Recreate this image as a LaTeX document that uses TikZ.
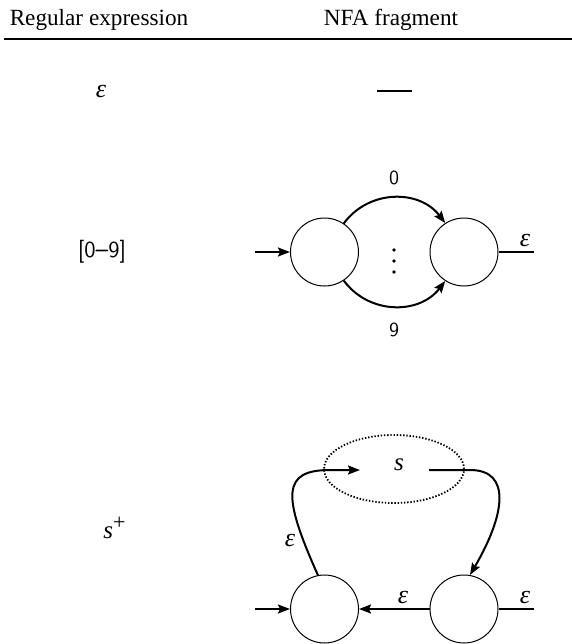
\documentclass[tikz,border=0pt]{standalone}
\usepackage{fontspec}
\setmainfont{Liberation Serif}
\usetikzlibrary{arrows.meta,shapes.geometric}
\begin{document}
\begin{tikzpicture}[x=0.5pt,y=-0.5pt,
  state/.style={circle,draw,line width=0.5pt,minimum size=34pt,inner sep=0pt},
  conn/.style={line width=1pt,-{Stealth[length=6pt,width=4.5pt,inset=1pt]}},
  plain/.style={line width=1pt},
  hdr/.style={font=\fontsize{11.6}{14}\selectfont,anchor=base,inner sep=0pt},
  eps/.style={font=\fontsize{13}{14}\selectfont\itshape,inner sep=1pt},
  dig/.style={font=\fontsize{10}{12}\selectfont\sffamily,inner sep=0pt},
]
\useasboundingbox (0,0) rectangle (572,644);

% header
\node[hdr] (h1) at (99,25) {Regular expression};
\node[hdr] (h2) at (391,25) {NFA fragment};
\coordinate (r1) at (4,39);
\coordinate (r2) at (572,39);
\draw[line width=1.2pt] (r1) -- (r2);

% row 1
\node[eps] (e1) at (101,91) {ε};
\coordinate (d1) at (377,91);
\coordinate (d2) at (412,91);
\draw[plain] (d1) -- (d2);

% row 2
\node[font=\fontsize{11.5}{13}\selectfont\sffamily,inner sep=0pt] (re2) at (102,252) {[0{\bfseries –}9]};
\node[state] (a) at (324.5,252) {};
\node[state] (b) at (464,252) {};
\coordinate (ain) at (255,252);
\coordinate (bout) at (534,252);
\draw[conn] (ain) -- (a);
\draw[plain] (b) -- (bout);
\node[eps] (l2) at (525,240) {ε};
\draw[conn] (a.56) .. controls +(25,-34) and +(-26,-34) .. (b.123);
\draw[conn] (a.-56) .. controls +(25,34) and +(-26,34) .. (b.-123);
\node[dig] (z0) at (394,178) {0};
\node[dig] (z9) at (394,330) {9};
\foreach \yy in {250,261,272} \fill (394,\yy) circle (0.9pt);

% row 3
\node[font=\fontsize{12.5}{14}\selectfont,anchor=base west,inner sep=0pt] (re3) at (103,538) {\itshape s\raisebox{4.5pt}{\fontsize{11}{12}\selectfont\upshape +}};
\node[state] (c) at (324.5,609) {};
\node[state] (d) at (464,609) {};
\coordinate (cin) at (255,609);
\coordinate (dout) at (534,609);
\draw[conn] (cin) -- (c);
\draw[conn] (d) -- (c);
\draw[plain] (d) -- (dout);
\node[eps] (l3a) at (403,597) {ε};
\node[eps] (l3b) at (525,597) {ε};
\node[ellipse,draw,line width=0.9pt,dash pattern=on 0.7pt off 0.9pt,minimum width=70pt,minimum height=34pt,inner sep=0pt] (s) at (394,469) {};
\node[font=\fontsize{12.5}{14}\selectfont\itshape,inner sep=0pt] (slab) at (399,465) {s};
\coordinate (sin) at (360,470);
\coordinate (sout) at (429,470);
\draw[conn] (c.101) .. controls (282,495) and (282,470) .. (330,470) -- (sin);
\draw[conn] (sout) -- (470,470) .. controls (512,470) and (505,515) .. (d.80);
\node[eps] (l3c) at (290,540) {ε};
\end{tikzpicture}
\end{document}
